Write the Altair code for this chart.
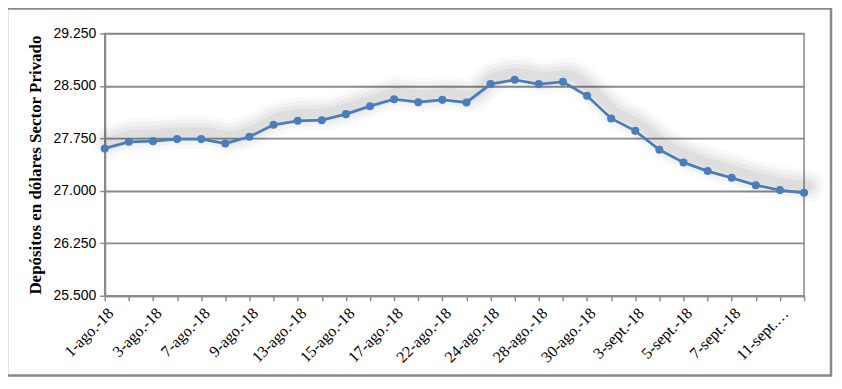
import altair as alt
import pandas as pd

fechas = ["1-ago.-18", "2-ago.-18", "3-ago.-18", "6-ago.-18", "7-ago.-18", "8-ago.-18",
          "9-ago.-18", "10-ago.-18", "13-ago.-18", "14-ago.-18", "15-ago.-18", "16-ago.-18",
          "17-ago.-18", "21-ago.-18", "22-ago.-18", "23-ago.-18", "24-ago.-18", "27-ago.-18",
          "28-ago.-18", "29-ago.-18", "30-ago.-18", "31-ago.-18", "3-sept.-18", "4-sept.-18",
          "5-sept.-18", "6-sept.-18", "7-sept.-18", "10-sept.-18", "11-sept.-18", "12-sept.-18"]
depositos = [27606, 27700, 27710, 27739, 27739, 27677, 27772, 27943, 28000, 28010,
             28096, 28210, 28310, 28267, 28300, 28263, 28525, 28586, 28525, 28558,
             28358, 28035, 27857, 27586, 27406, 27282, 27186, 27081, 27010, 26971]
y_ticks = [25500, 26250, 27000, 27750, 28500, 29250]

df = pd.DataFrame({"fecha": fechas, "valor": depositos})

W, H = 701, 263
GRAY = "#8a8a8a"
BLUE = "#4a7ebb"

fechas_js = "[" + ",".join('"' + f + '"' for f in fechas) + "]"

x_enc = alt.X("fecha:O", sort=fechas, title=None,
              scale=alt.Scale(type="point", padding=0),
              axis=alt.Axis(labelAngle=-45, labelFont="Liberation Serif", labelFontSize=16,
                            labelColor="#000000", labelLimit=71,
                            labelExpr="indexof(" + fechas_js + ", datum.value) % 2 == 0 ? datum.value : ''",
                            tickColor=GRAY, tickSize=5, tickWidth=1.5,
                            domainColor=GRAY, domainWidth=2, labelPadding=4,
                            grid=False))
y_enc = alt.Y("valor:Q", title="Depósitos en dólares Sector Privado",
              scale=alt.Scale(domain=[25500, 29250], nice=False, zero=False),
              axis=alt.Axis(values=y_ticks,
                            labelExpr="replace(format(datum.value, ',.0f'), ',', '.')",
                            labelFont="Liberation Sans",
                            labelFontSize=14, labelColor="#000000", labelPadding=4,
                            tickColor=GRAY, tickSize=5, tickWidth=1.5,
                            domainColor=GRAY, domainWidth=2,
                            gridColor=GRAY, gridWidth=1.8,
                            titleFont="Liberation Serif", titleFontSize=17, titleFontWeight="bold",
                            titleColor="#000000", titlePadding=9))

base = alt.Chart(df)

shadows = [
    base.mark_line(stroke="#000000", opacity=op, strokeWidth=sw, xOffset=4, yOffset=-7,
                   strokeCap="round", strokeJoin="round", interpolate="monotone")
        .encode(x=x_enc, y=y_enc)
    for sw, op in [(34, 0.02), (26, 0.03), (18, 0.035), (10, 0.045)]
]

line = base.mark_line(color=BLUE, strokeWidth=2.8).encode(x=x_enc, y=y_enc)
points = base.mark_circle(color=BLUE, size=65, opacity=1).encode(x=x_enc, y=y_enc)

frame = alt.Chart(pd.DataFrame({"k": [0]})).mark_rect(
    fill=None, stroke=GRAY, strokeWidth=2.5, clip=False
).encode(x=alt.value(-98), x2=alt.value(W + 27), y=alt.value(-25), y2=alt.value(H + 80))

chart = alt.layer(*shadows, line, points, frame).properties(
    width=W, height=H,
    autosize=alt.AutoSizeParams(type="none"),
    padding={"left": 97, "top": 25, "right": 30, "bottom": 90},
).configure_view(stroke=GRAY, strokeWidth=1.5)

chart.save("out.html", embed_options={"renderer": "svg", "actions": False})
